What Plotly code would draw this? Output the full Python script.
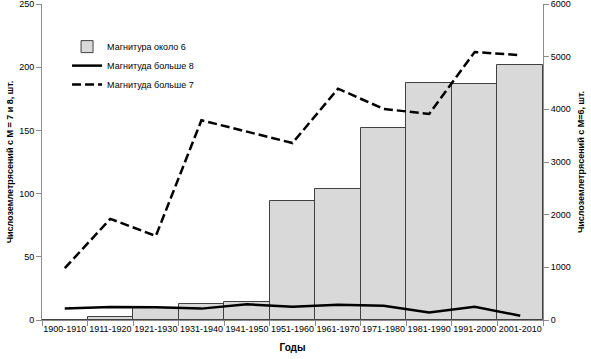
import plotly.graph_objects as go

periods = ["1900-1910", "1911-1920", "1921-1930", "1931-1940", "1941-1950",
           "1951-1960", "1961-1970", "1971-1980", "1981-1990", "1991-2000", "2001-2010"]
mag6 = [5, 50, 235, 305, 335, 2260, 2490, 3650, 4500, 4480, 4840]
mag8 = [9, 10.3, 10, 9, 12.4, 10.5, 12, 11.3, 6, 10.5, 3.4]
mag7 = [41, 80, 66.5, 158, 149, 140, 183, 167, 163, 212, 209.5]

FONT = "Liberation Sans"

fig = go.Figure()
fig.add_trace(go.Bar(
    x=periods, y=mag6, name="Магнитура около 6", yaxis="y",
    marker=dict(color="#d9d9d9", line=dict(color="#404040", width=1)),
))
fig.add_trace(go.Scatter(
    x=periods, y=mag8, name="Магнитуда больше 8", yaxis="y2", mode="lines",
    line=dict(color="black", width=2.5),
))
fig.add_trace(go.Scatter(
    x=periods, y=mag7, name="Магнитуда больше 7", yaxis="y2", mode="lines",
    line=dict(color="black", width=2.5, dash="9px,4px"),
))

axis_common = dict(showgrid=False, zeroline=False, showline=True, linecolor="#8c8c8c",
                   linewidth=1, ticks="outside", ticklen=5, tickcolor="#8c8c8c",
                   automargin=False, ticklabeloverflow="allow",
                   tickfont=dict(size=9, color="black", family=FONT))

fig.update_layout(
    width=591, height=359,
    margin=dict(l=42, r=48, t=4, b=39),
    paper_bgcolor="white", plot_bgcolor="white",
    font=dict(family=FONT, size=9, color="black"),
    bargap=0,
    showlegend=True,
    legend=dict(x=0.05, y=0.911, xanchor="left", yanchor="top",
                bgcolor="rgba(0,0,0,0)", font=dict(size=9, family=FONT),
                tracegroupgap=0, itemwidth=30),
    xaxis=dict(type="category", range=[-0.5, 10.5], tickson="boundaries",
               tickangle=0,
               title=dict(text="<b>Годы</b>", font=dict(size=10, family=FONT), standoff=11),
               **axis_common),
    yaxis=dict(side="right", range=[0, 6000], dtick=1000,
               title=dict(text="<b>Числоземлетрясений с М=6, шт.</b>",
                          font=dict(size=9, family=FONT), standoff=7),
               **axis_common),
    yaxis2=dict(side="left", overlaying="y", range=[0, 250], dtick=50,
                title=dict(text="<b>Числоземлетрясений с М = 7 и 8, шт.</b>",
                           font=dict(size=9, family=FONT), standoff=4),
                **axis_common),
)

fig.write_html("out.html", config={"displayModeBar": False},
               post_script="document.body.style.margin='0';")
